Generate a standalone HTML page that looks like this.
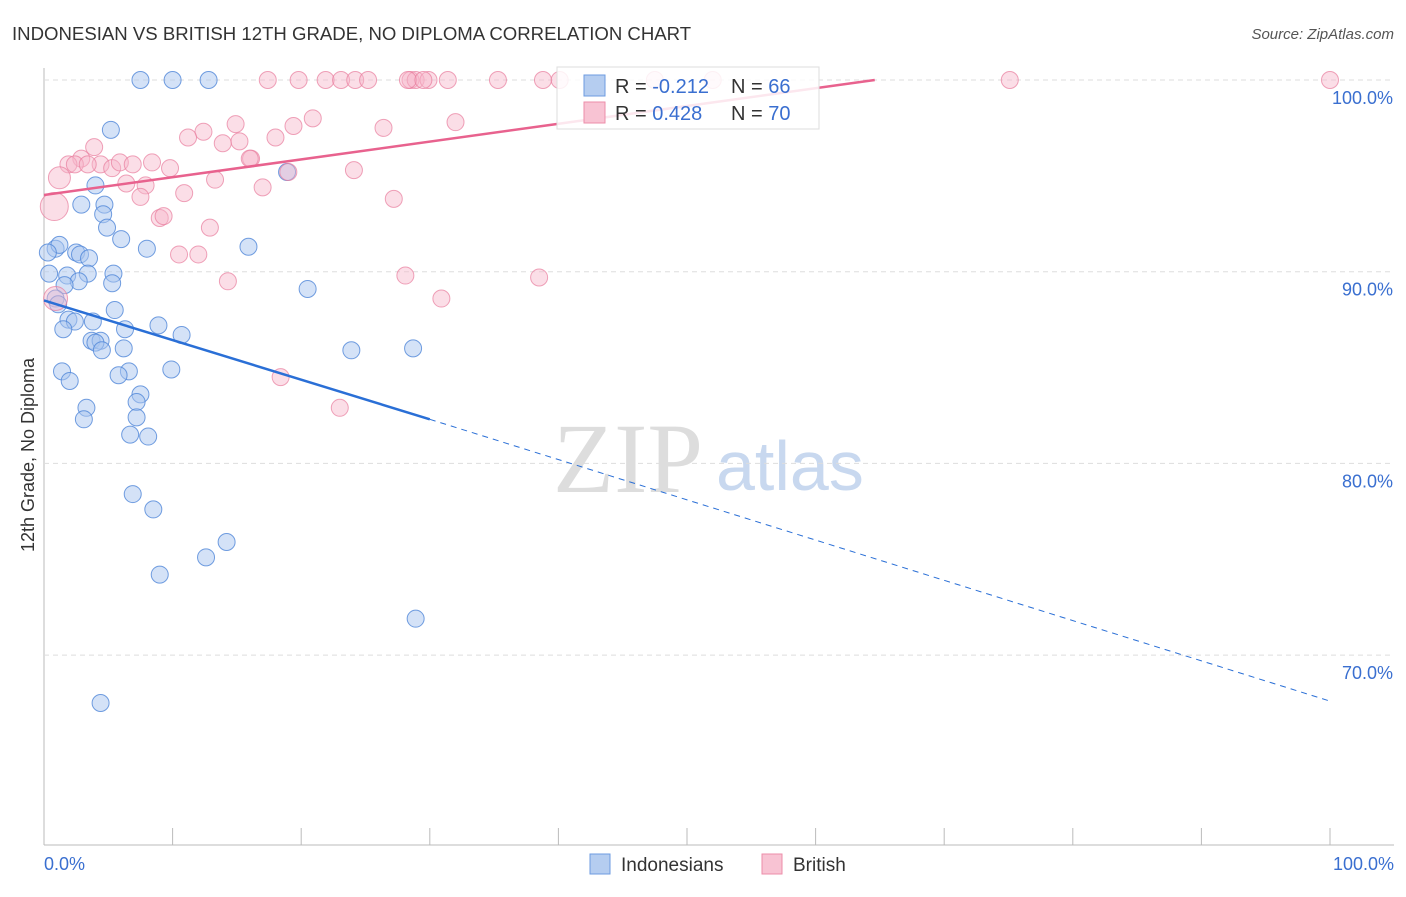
<!DOCTYPE html>
<html><head><meta charset="utf-8"><style>
body{margin:0;background:#fff;font-family:"Liberation Sans",sans-serif}
svg text{font-family:"Liberation Sans",sans-serif}
</style></head><body>
<svg id="chart" width="1406" height="892" xmlns="http://www.w3.org/2000/svg">
<text x="12" y="40" font-size="18.6" fill="#333">INDONESIAN VS BRITISH 12TH GRADE, NO DIPLOMA CORRELATION CHART</text>
<text x="1394" y="39" font-size="15" fill="#555" font-style="italic" text-anchor="end">Source: ZipAtlas.com</text>
<text x="553" y="492" font-size="100" fill="#ddd" style="font-family:'Liberation Serif',serif">ZIP</text>
<text x="716" y="490" font-size="70" fill="#c8d8ef">atlas</text>
<g id="grid"></g><g id="pts"></g><g id="lines"></g>
<text x="34" y="455" font-size="18" fill="#333" transform="rotate(-90 34 455)" text-anchor="middle">12th Grade, No Diploma</text>
<text x="44" y="870" font-size="18" fill="#3a6fd0">0.0%</text>
<text x="1394" y="870" font-size="18" fill="#3a6fd0" text-anchor="end">100.0%</text>
<g>
<rect x="557" y="67" width="262" height="62" fill="#fff" fill-opacity="0.85" stroke="#ddd"/>
<rect x="584" y="75" width="21" height="21" fill="#b5cdf0" stroke="#6d9be0"/>
<rect x="584" y="102" width="21" height="21" fill="#f8c3d3" stroke="#ec8eaa"/>
<text x="615" y="93" font-size="20" fill="#333">R = <tspan fill="#3a6fd0">-0.212</tspan></text>
<text x="731" y="93" font-size="20" fill="#333">N = <tspan fill="#3a6fd0">66</tspan></text>
<text x="615" y="120" font-size="20" fill="#333">R = <tspan fill="#3a6fd0"> 0.428</tspan></text>
<text x="731" y="120" font-size="20" fill="#333">N = <tspan fill="#3a6fd0">70</tspan></text>
</g>
<g>
<rect x="590" y="854" width="20" height="20" fill="#b5cdf0" stroke="#6d9be0"/>
<text x="621" y="871" font-size="19" fill="#333">Indonesians</text>
<rect x="762" y="854" width="20" height="20" fill="#f8c3d3" stroke="#ec8eaa"/>
<text x="793" y="871" font-size="19" fill="#333">British</text>
</g>
</svg>
<script>
const yTicks=[100,90,80,70];
const yTickLabels=["100.0%","90.0%","80.0%","70.0%"];
const xTicks=[0,10,20,30,40,50,60,70,80,90,100];
const blueX=[7.5,10,12.8,5.2,18.9,4.0,2.9,4.7,4.6,4.9,6.0,0.9,1.2,0.3,8.0,15.9,2.5,2.8,3.5,0.4,5.4,1.8,3.4,2.7,5.3,20.5,1.6,0.9,1.1,5.5,1.9,2.4,3.8,1.5,6.3,8.9,10.7,3.7,4.4,4.0,4.5,6.2,23.9,28.7,1.4,6.6,5.8,9.9,2.0,7.5,7.2,3.3,7.2,3.1,6.7,8.1,6.9,8.5,14.2,12.6,9.0,28.9,4.4];
const blueY=[100,100,100,97.4,95.2,94.5,93.5,93.5,93.0,92.3,91.7,91.2,91.4,91.0,91.2,91.3,91.0,90.9,90.7,89.9,89.9,89.8,89.9,89.5,89.4,89.1,89.3,88.6,88.3,88.0,87.5,87.4,87.4,87.0,87.0,87.2,86.7,86.4,86.4,86.3,85.9,86.0,85.9,86.0,84.8,84.8,84.6,84.9,84.3,83.6,83.2,82.9,82.4,82.3,81.5,81.4,78.4,77.6,75.9,75.1,74.2,71.9,67.5];
const pinkX=[17.4,19.8,21.9,23.1,24.2,25.2,28.5,28.9,29.9,31.4,35.3,38.8,40.1,47.5,52,75.1,100,28.3,29.5,20.9,14.9,18.0,19.4,26.4,32.0,12.4,11.2,15.2,13.9,3.9,2.9,1.9,2.4,4.4,3.4,5.3,5.9,6.9,8.4,9.8,16.1,16.0,19.0,24.1,1.2,6.4,7.9,13.3,17.0,10.9,7.5,27.2,9.0,9.3,12.9,0.8,10.5,12.0,14.3,28.1,38.5,30.9,18.4,23.0,0.9];
const pinkY=[100,100,100,100,100,100,100,100,100,100,100,100,100,100,100,100,100,100,100,98.0,97.7,97.0,97.6,97.5,97.8,97.3,97.0,96.8,96.7,96.5,95.9,95.6,95.6,95.6,95.6,95.4,95.7,95.6,95.7,95.4,95.9,95.9,95.2,95.3,94.9,94.6,94.5,94.8,94.4,94.1,93.9,93.8,92.8,92.9,92.3,93.4,90.9,90.9,89.5,89.8,89.7,88.6,84.5,82.9,88.6];
const pinkR=[];pinkR[55]=14;pinkR[44]=11;pinkR[64]=12;
const blueFit=[[0,88.5],[30,82.3]];const blueDash=[[30,82.3],[100,67.6]];
const pinkFit=[[0,94.0],[64.6,100]];
const X=v=>44+v*12.86, Y=v=>80+(100-v)*19.17;
const NS="http://www.w3.org/2000/svg";
function mk(t,a,p){const e=document.createElementNS(NS,t);for(const k in a)e.setAttribute(k,a[k]);p.appendChild(e);return e;}
const grid=document.getElementById('grid');
mk('line',{x1:44,y1:68,x2:44,y2:845,stroke:'#bbb'},grid);
mk('line',{x1:44,y1:845,x2:1394,y2:845,stroke:'#bbb'},grid);
yTicks.forEach((t,i)=>{
 const l=mk('line',{x1:44,y1:Y(t),x2:1394,y2:Y(t),stroke:'#ddd','stroke-dasharray':'5,4'},grid);
 
 
 const tx=mk('text',{x:1393,y:Y(t)+24,'font-size':18,fill:'#3a6fd0','text-anchor':'end'},grid);
 tx.textContent=yTickLabels[i];
 
 
});
xTicks.forEach(t=>{
 const l=mk('line',{x1:X(t),y1:828,x2:X(t),y2:845,stroke:'#bbb'},grid);
 
 
});
const pts=document.getElementById('pts');
blueX.forEach((x,i)=>{
 const c=mk('circle',{cx:X(x),cy:Y(blueY[i]),r:8.5,fill:'#a9c6ef','fill-opacity':0.5,stroke:'#4f86d8','stroke-opacity':0.8},pts);
 
 
});
pinkX.forEach((x,i)=>{
 const c=mk('circle',{cx:X(x),cy:Y(pinkY[i]),r:pinkR[i]||8.5,fill:'#f6b6c9','fill-opacity':0.45,stroke:'#e87c9d','stroke-opacity':0.7},pts);
 
 
});
const lines=document.getElementById('lines');
let a=mk('line',{x1:X(blueFit[0][0]),y1:Y(blueFit[0][1]),x2:X(blueFit[1][0]),y2:Y(blueFit[1][1]),stroke:'#2a6fd6','stroke-width':2.5},lines);


a=mk('line',{x1:X(blueDash[0][0]),y1:Y(blueDash[0][1]),x2:X(blueDash[1][0]),y2:Y(blueDash[1][1]),stroke:'#2a6fd6','stroke-width':1,'stroke-dasharray':'6,5'},lines);


a=mk('line',{x1:X(pinkFit[0][0]),y1:Y(pinkFit[0][1]),x2:X(pinkFit[1][0]),y2:Y(pinkFit[1][1]),stroke:'#e8628e','stroke-width':2.5},lines);


</script>
</body></html>
